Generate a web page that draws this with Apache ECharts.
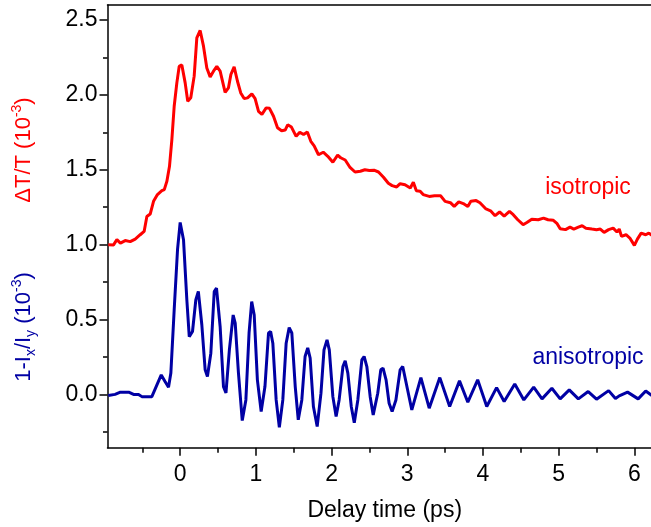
<!DOCTYPE html>
<html>
<head>
<meta charset="utf-8">
<script src="https://cdn.jsdelivr.net/npm/echarts@6/dist/echarts.min.js"></script>
<style>
html,body{margin:0;padding:0;background:#fff;}
#c{width:651px;height:527px;}
</style>
</head>
<body>
<div id="c"></div>
<script>
// ---- data ----
const xMajorTicks = [0, 1, 2, 3, 4, 5, 6];
const xMinorTicks = [-0.5, 0.5, 1.5, 2.5, 3.5, 4.5, 5.5];
const yMajorTicks = [0, 0.5, 1.0, 1.5, 2.0, 2.5];
const yMinorTicks = [-0.25, 0.25, 0.75, 1.25, 1.75, 2.25];

const isoT = [-0.95,-0.88,-0.836,-0.79,-0.726,-0.66,-0.594,-0.528,-0.476,-0.44,-0.396,-0.352,-0.3,-0.242,-0.21,-0.176,-0.141,-0.11,-0.079,-0.044,-0.013,0.022,0.066,0.10,0.14,0.185,0.22,0.264,0.308,0.352,0.396,0.44,0.484,0.528,0.594,0.638,0.67,0.713,0.757,0.80,0.845,0.89,0.947,0.99,1.035,1.08,1.136,1.18,1.233,1.286,1.34,1.387,1.42,1.47,1.532,1.58,1.63,1.68,1.726,1.77,1.827,1.89,1.95,2.017,2.08,2.12,2.18,2.24,2.31,2.38,2.44,2.5,2.56,2.62,2.686,2.75,2.80,2.86,2.906,2.97,3.04,3.08,3.12,3.17,3.21,3.29,3.36,3.44,3.50,3.57,3.62,3.68,3.74,3.80,3.84,3.91,3.96,4.04,4.10,4.16,4.22,4.28,4.35,4.40,4.46,4.53,4.58,4.645,4.73,4.80,4.86,4.93,4.98,5.02,5.09,5.15,5.20,5.26,5.31,5.36,5.44,5.50,5.55,5.60,5.66,5.72,5.77,5.80,5.83,5.89,5.94,6.00,6.04,6.09,6.15,6.19,6.25];
const isoV = [0.999,0.998,1.033,1.01,1.027,1.02,1.037,1.066,1.088,1.188,1.204,1.289,1.334,1.36,1.367,1.422,1.523,1.70,1.924,2.08,2.19,2.20,2.08,1.957,1.98,2.125,2.38,2.43,2.325,2.18,2.12,2.158,2.19,2.158,2.017,2.047,2.136,2.187,2.091,2.013,1.975,1.98,2.007,1.975,1.89,1.87,1.913,1.91,1.857,1.78,1.76,1.765,1.80,1.785,1.723,1.75,1.735,1.752,1.69,1.66,1.60,1.617,1.59,1.55,1.597,1.58,1.565,1.518,1.485,1.49,1.50,1.495,1.497,1.485,1.45,1.41,1.394,1.385,1.407,1.40,1.378,1.416,1.36,1.357,1.334,1.322,1.326,1.326,1.289,1.28,1.255,1.285,1.274,1.255,1.289,1.294,1.28,1.238,1.226,1.193,1.218,1.19,1.222,1.20,1.166,1.133,1.148,1.17,1.166,1.177,1.166,1.162,1.14,1.106,1.10,1.117,1.104,1.117,1.126,1.11,1.104,1.10,1.104,1.082,1.10,1.11,1.084,1.104,1.055,1.066,1.044,0.995,1.037,1.077,1.066,1.077,1.055];

const anisoT = [-0.95,-0.86,-0.79,-0.68,-0.616,-0.55,-0.506,-0.374,-0.317,-0.25,-0.2,-0.154,-0.123,-0.079,-0.035,0,0.044,0.088,0.12,0.163,0.207,0.24,0.286,0.33,0.36,0.405,0.45,0.48,0.528,0.572,0.605,0.65,0.70,0.727,0.77,0.82,0.868,0.91,0.945,0.978,1.02,1.07,1.12,1.167,1.195,1.224,1.268,1.31,1.356,1.40,1.44,1.475,1.52,1.56,1.607,1.65,1.685,1.717,1.76,1.81,1.86,1.90,1.94,1.97,2.017,2.06,2.10,2.15,2.18,2.215,2.26,2.30,2.347,2.40,2.43,2.466,2.51,2.55,2.61,2.65,2.68,2.72,2.76,2.80,2.85,2.906,2.94,3.06,3.18,3.29,3.43,3.56,3.69,3.80,3.93,4.05,4.18,4.28,4.42,4.54,4.67,4.78,4.91,5.02,5.14,5.26,5.39,5.50,5.66,5.75,5.80,5.91,6.05,6.15,6.25];
const anisoV = [-0.008,0.0,0.015,0.015,0.0,0.0,-0.015,-0.015,0.052,0.13,0.086,0.048,0.142,0.565,0.966,1.148,1.033,0.632,0.386,0.42,0.632,0.687,0.465,0.164,0.12,0.275,0.687,0.71,0.453,0.052,0.01,0.297,0.53,0.476,0.142,-0.175,-0.037,0.41,0.62,0.53,0.097,-0.115,0.052,0.41,0.42,0.342,-0.037,-0.22,-0.037,0.342,0.446,0.41,0.052,-0.17,-0.037,0.253,0.31,0.243,-0.081,-0.215,0.008,0.297,0.364,0.297,-0.015,-0.148,-0.037,0.186,0.224,0.142,-0.081,-0.19,-0.037,0.23,0.253,0.186,-0.015,-0.137,0.008,0.164,0.175,0.097,-0.059,-0.115,-0.037,0.164,0.186,-0.104,0.112,-0.092,0.112,-0.081,0.09,-0.052,0.097,-0.081,0.045,-0.048,0.07,-0.037,0.048,-0.03,0.041,-0.03,0.03,-0.03,0.019,-0.032,0.025,-0.028,-0.01,0.015,-0.03,0.023,-0.015];

const RED = '#ff0000';
const BLUE = '#0000a4';
const FONT = '"Liberation Sans", Arial, sans-serif';
const FS = 23;

const chart = echarts.init(document.getElementById('c'), null, {renderer: 'canvas'});

const axLine = {show: true, onZero: false, lineStyle: {color: '#000', width: 1.5}};
const noLine = {show: false, onZero: false};
const xRange = {min: -0.96, max: 6.365};
const yRange = {min: -0.356, max: 2.6};

chart.setOption({
  animation: false,
  backgroundColor: '#fff',
  grid: {left: 107.5, top: 5, width: 554.5, height: 442.7, containLabel: false, outerBoundsMode: 'none'},
  xAxis: [
    Object.assign({type: 'value', position: 'bottom', gridIndex: 0,
      axisLine: axLine,
      axisTick: {show: true, inside: false, length: 8, lineStyle: {color: '#000', width: 1.5}, customValues: xMajorTicks},
      axisLabel: {show: true, margin: 15, fontSize: FS, color: '#000', fontFamily: FONT, customValues: xMajorTicks},
      splitLine: {show: false},
      name: 'Delay time (ps)', nameLocation: 'middle', nameGap: 51,
      nameTextStyle: {fontSize: FS, color: '#000', fontFamily: FONT}
    }, xRange),
    Object.assign({type: 'value', position: 'bottom', gridIndex: 0,
      axisLine: noLine,
      axisTick: {show: true, inside: false, length: 5, lineStyle: {color: '#000', width: 1.5}, customValues: xMinorTicks},
      axisLabel: {show: false, customValues: xMinorTicks},
      splitLine: {show: false}
    }, xRange),
    Object.assign({type: 'value', position: 'top', gridIndex: 0,
      axisLine: axLine, axisTick: {show: false}, axisLabel: {show: false}, splitLine: {show: false}
    }, xRange)
  ],
  yAxis: [
    Object.assign({type: 'value', position: 'left', gridIndex: 0,
      axisLine: axLine,
      axisTick: {show: true, inside: false, length: 8, lineStyle: {color: '#000', width: 1.5}, customValues: yMajorTicks},
      axisLabel: {show: true, margin: 10, fontSize: FS, color: '#000', fontFamily: FONT, customValues: yMajorTicks,
        formatter: v => v.toFixed(1)},
      splitLine: {show: false}
    }, yRange),
    Object.assign({type: 'value', position: 'left', gridIndex: 0,
      axisLine: noLine,
      axisTick: {show: true, inside: false, length: 4.5, lineStyle: {color: '#000', width: 1.5}, customValues: yMinorTicks},
      axisLabel: {show: false, customValues: yMinorTicks},
      splitLine: {show: false}
    }, yRange)
  ],
  series: [
    {type: 'line', name: 'isotropic', xAxisIndex: 0, yAxisIndex: 0, showSymbol: false, clip: true,
     lineStyle: {color: RED, width: 3}, itemStyle: {color: RED},
     data: isoT.map((t, i) => [t, isoV[i]])},
    {type: 'line', name: 'anisotropic', xAxisIndex: 0, yAxisIndex: 0, showSymbol: false, clip: true,
     lineStyle: {color: BLUE, width: 3}, itemStyle: {color: BLUE},
     data: anisoT.map((t, i) => [t, anisoV[i]])}
  ],
  graphic: [
    {type: 'text', x: 24, y: 150, rotation: Math.PI / 2,
     style: {text: '{a|ΔT/T (10}{s|-3}{a|)}', align: 'center', verticalAlign: 'middle',
       textAlign: 'center', textVerticalAlign: 'middle', fill: RED, font: '22px ' + FONT,
       rich: {a: {fontSize: 22, fontFamily: FONT, fill: RED, lineHeight: 28},
              s: {fontSize: 14, fontFamily: FONT, fill: RED, verticalAlign: 'top', lineHeight: 16}}}},
    {type: 'text', x: 24, y: 327, rotation: Math.PI / 2,
     style: {text: '{a|1-I}{b|x}{a|/I}{b|y}{a| (10}{s|-3}{a|)}', align: 'center', verticalAlign: 'middle',
       textAlign: 'center', textVerticalAlign: 'middle', fill: BLUE, font: '22px ' + FONT,
       rich: {a: {fontSize: 22, fontFamily: FONT, fill: BLUE, lineHeight: 28},
              b: {fontSize: 14, fontFamily: FONT, fill: BLUE, verticalAlign: 'bottom', lineHeight: 16},
              s: {fontSize: 14, fontFamily: FONT, fill: BLUE, verticalAlign: 'top', lineHeight: 16}}}},
    {type: 'text', x: 588, y: 188,
     style: {text: 'isotropic', align: 'center', verticalAlign: 'middle', textAlign: 'center', textVerticalAlign: 'middle',
       fill: RED, font: FS + 'px ' + FONT}},
    {type: 'text', x: 588, y: 358,
     style: {text: 'anisotropic', align: 'center', verticalAlign: 'middle', textAlign: 'center', textVerticalAlign: 'middle',
       fill: BLUE, font: FS + 'px ' + FONT}}
  ]
});
</script>
</body>
</html>
